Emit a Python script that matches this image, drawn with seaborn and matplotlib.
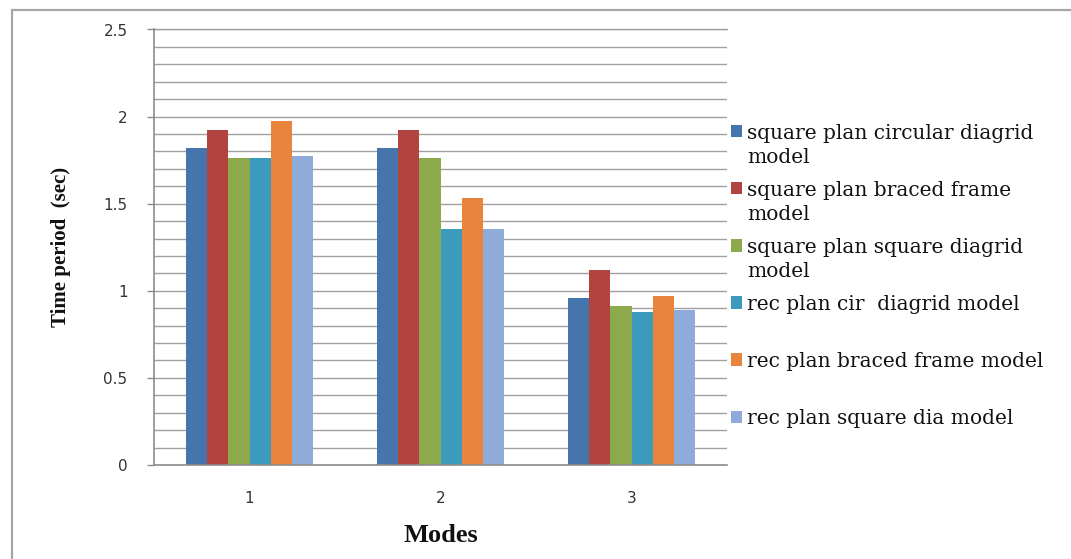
import numpy as np
import pandas as pd
import matplotlib
matplotlib.use("Agg")
import matplotlib.pyplot as plt
from matplotlib.patches import Rectangle
from matplotlib.legend_handler import HandlerPatch
from matplotlib.ticker import MultipleLocator
import seaborn as sns

# ---- data ----
modes = ["1", "2", "3"]
series_names = [
    "square plan circular diagrid\nmodel",
    "square plan braced frame\nmodel",
    "square plan square diagrid\nmodel",
    "rec plan cir  diagrid model\n",
    "rec plan braced frame model\n",
    "rec plan square dia model\n",
]
sq_circ_diagrid = [1.82, 1.82, 0.96]
sq_braced_frame = [1.925, 1.925, 1.12]
sq_square_diagrid = [1.765, 1.76, 0.915]
rec_cir_diagrid = [1.765, 1.355, 0.88]
rec_braced_frame = [1.975, 1.53, 0.97]
rec_square_dia = [1.775, 1.355, 0.89]
y_ticks = [0, 0.5, 1, 1.5, 2, 2.5]
y_tick_labels = ["0", "0.5", "1", "1.5", "2", "2.5"]

colors = ["#4674AD", "#B3433F", "#8CAA4C", "#3C9BBD", "#E8843B", "#8FABD9"]

all_series = [sq_circ_diagrid, sq_braced_frame, sq_square_diagrid,
              rec_cir_diagrid, rec_braced_frame, rec_square_dia]
df = pd.DataFrame({
    "Mode": np.tile(modes, len(series_names)),
    "Series": np.repeat(series_names, len(modes)),
    "Period": np.concatenate(all_series),
})

sns.set_style("white")
plt.rcParams["font.family"] = ["DejaVu Sans"]

W, H = 1071, 559
fig = plt.figure(figsize=(W / 100, H / 100), dpi=100)
ax = fig.add_axes([154 / W, 1 - 465 / H, (727 - 154) / W, (465 - 29.5) / H])

sns.barplot(data=df, x="Mode", y="Period", hue="Series", order=modes,
            hue_order=series_names, palette=colors, width=0.665,
            saturation=1, linewidth=0, ax=ax, legend=False)

ax.set_xlim(-0.5, 2.5)
ax.set_ylim(0, 2.5)
ax.set_yticks(y_ticks)
ax.set_yticklabels(y_tick_labels)
ax.yaxis.set_minor_locator(MultipleLocator(0.1))
ax.set_axisbelow(True)
ax.grid(False)
grid_kw = dict(color="#A0A0A0", linewidth=1.0)
ax.yaxis.grid(True, which="both", **grid_kw)
ax.axhline(2.5, clip_on=False, zorder=0.5, **grid_kw)

for side in ["top", "right"]:
    ax.spines[side].set_visible(False)
for side in ["left", "bottom"]:
    ax.spines[side].set_color("#8C8C8C")
    ax.spines[side].set_linewidth(1.2)

ax.tick_params(axis="y", which="major", direction="out", length=5, width=1,
               color="#8C8C8C", pad=14, labelsize=11, labelcolor="#333333",
               left=True)
ax.tick_params(axis="y", which="minor", length=0)
ax.tick_params(axis="x", length=0, pad=19, labelsize=11, labelcolor="#333333")

ax.set_xlabel("Modes", fontsize=19, fontweight="bold",
              family="Liberation Serif", color="#111111")
ax.xaxis.set_label_coords(0.5, -0.135)
ax.set_ylabel("Time period  (sec)", fontsize=15, fontweight="bold",
              family="Liberation Serif", color="#111111")
ax.yaxis.set_label_coords(-0.145, 0.5)


# legend handles sit on the first line of each two-line label
class FirstLineHandler(HandlerPatch):
    def __init__(self, shift, **kw):
        super().__init__(**kw)
        self.shift = shift

    def create_artists(self, legend, orig_handle, xdescent, ydescent,
                       width, height, fontsize, trans):
        p = Rectangle((-xdescent, -ydescent + self.shift * fontsize),
                      width, height, facecolor=orig_handle.get_facecolor(),
                      edgecolor="none", transform=trans)
        return [p]


handles = [Rectangle((0, 0), 1, 1, facecolor=c, edgecolor="none") for c in colors]
leg_fs = 14.5
leg = fig.legend(handles, series_names, loc="upper left",
                 bbox_to_anchor=(731 / W, 1 - 124 / H),
                 frameon=False, fontsize=leg_fs, borderpad=0, borderaxespad=0,
                 handlelength=0.55, handleheight=0.55, handletextpad=0.25,
                 labelspacing=0.7,
                 prop={"family": "DejaVu Serif", "size": leg_fs},
                 handler_map={Rectangle: FirstLineHandler(0.72)})
for t in leg.get_texts():
    t.set_linespacing(1.33)
    t.set_color("#111111")

# outer chart frame
fig.patches.append(Rectangle((11.5 / W, -0.05), 1.2, 1 - 10 / H + 0.05,
                             transform=fig.transFigure, fill=False,
                             edgecolor="#A6A6A6", linewidth=1.6))

fig.savefig("out.png", dpi=100, facecolor="white")
